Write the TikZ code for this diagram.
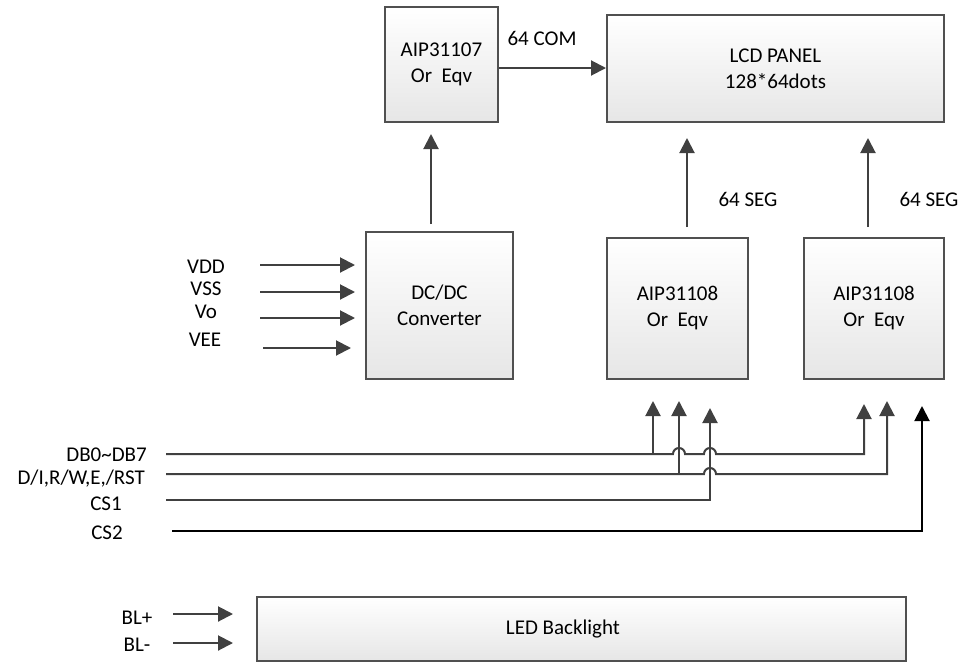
\documentclass[tikz,border=0pt]{standalone}
\usepackage{fontspec}
\setmainfont{Carlito}
\usetikzlibrary{arrows.meta,calc}
\definecolor{arrcol}{HTML}{404040}
\definecolor{boxline}{HTML}{505050}
\definecolor{boxbot}{HTML}{E6E6E6}
\begin{document}
\begin{tikzpicture}[x=1pt,y=-1pt,
  font=\fontsize{21}{26}\selectfont,
  blk/.style={draw=boxline,line width=2pt,top color=white,bottom color=boxbot,
    rectangle,align=center,inner sep=0pt,minimum width=#1},
  arr/.style={draw=arrcol,line width=2pt,-{Triangle[length=15pt,width=15pt]}},
  lbl/.style={inner sep=0pt}]
\useasboundingbox (0,0) rectangle (962,662);
% boxes
\node[blk=113pt,minimum height=115pt] (com) at (441.5,64.5) {AIP31107\\Or\ \ Eqv};
\node[blk=337pt,minimum height=107pt] (lcd) at (775.5,68.5) {LCD PANEL\\128*64dots};
\node[blk=147pt,minimum height=147pt] (dcdc) at (439.5,305.5) {DC/DC\\Converter};
\node[blk=141pt,minimum height=141pt] (seg1) at (677.5,308.5) {AIP31108\\Or\ \ Eqv};
\node[blk=140pt,minimum height=141pt] (seg2) at (874,308.5) {AIP31108\\Or\ \ Eqv};
\node[blk=649pt,minimum height=64pt] (led) at (581.5,629) {};
\node[lbl] (ledt) at (563,629) {LED Backlight};
% top connectors
\draw[arr] (com.east |- 0,68) -- (lcd.west |- 0,68);
\node[lbl] (comlbl) at (542,38) {64 COM};
\draw[arr,shorten <=7pt,shorten >=11pt] (dcdc.north -| 431,0) -- (com.south -| 431,0);
\draw[arr,shorten <=10pt,shorten >=15pt] (seg1.north -| 687,0) -- (lcd.south -| 687,0);
\draw[arr,shorten <=10pt,shorten >=15pt] (seg2.north -| 868,0) -- (lcd.south -| 868,0);
\node[lbl] (seglbl1) at (748,199) {64 SEG};
\node[lbl] (seglbl2) at (929,199) {64 SEG};
% power inputs
\node[lbl] (vdd) at (206,267) {VDD};
\node[lbl] (vss) at (206,289) {VSS};
\node[lbl] (vo) at (206,312) {Vo};
\node[lbl] (vee) at (205,340) {VEE};
\coordinate (vddA) at (260,265); \coordinate (vddB) at (355,265);
\coordinate (vssA) at (260,292); \coordinate (vssB) at (355,292);
\coordinate (voA) at (260,318);  \coordinate (voB) at (355,318);
\coordinate (veeA) at (263,348); \coordinate (veeB) at (351,348);
\draw[arr] (vddA) -- (vddB);
\draw[arr] (vssA) -- (vssB);
\draw[arr] (voA) -- (voB);
\draw[arr] (veeA) -- (veeB);
% bus labels
\node[lbl,anchor=east] (dblbl) at (147,455) {DB0\textasciitilde DB7};
\node[lbl,anchor=east] (dilbl) at (145,479) {D/I,R/W,E,/RST};
\node[lbl] (cs1lbl) at (106,504) {CS1};
\node[lbl] (cs2lbl) at (107,533) {CS2};
% bus coordinates
\coordinate (dbL) at (166,454);
\coordinate (diL) at (166,474);
\coordinate (cs1L) at (166,500);
\coordinate (cs2L) at (172,531);
\coordinate (ja) at (653,454);
\coordinate (jb) at (679,474);
\coordinate (jc) at (710,500);
% DB0~DB7 line with hops, to seg2
\draw[arr,shorten >=24pt] (dbL) -- (673,454) arc[start angle=180,end angle=0,radius=6pt]
  -- (704,454) arc[start angle=180,end angle=0,radius=6pt]
  -- (864,454) -- (seg2.south -| 864,0);
\draw[arr,shorten >=21pt] (ja) -- (seg1.south -| ja);
% D/I line with hop, to seg2
\draw[arr,shorten >=21pt] (diL) -- (704,474) arc[start angle=180,end angle=0,radius=6pt]
  -- (887,474) -- (seg2.south -| 887,0);
\draw[arr,shorten >=21pt] (jb) -- (seg1.south -| jb);
% CS1
\draw[arr,shorten >=28pt] (cs1L) -- (jc) -- (seg1.south -| jc);
% CS2
\draw[line width=2pt,draw=black,-{Triangle[length=15pt,width=15pt]},shorten >=26pt]
  (cs2L) -- (922,531) -- (seg2.south -| 922,0);
% backlight
\node[lbl] (blp) at (137,618) {BL+};
\node[lbl] (blm) at (137,645) {BL-};
\coordinate (blpA) at (173,614); \coordinate (blpB) at (233,614);
\coordinate (blmA) at (173,643); \coordinate (blmB) at (233,643);
\draw[arr] (blpA) -- (blpB);
\draw[arr] (blmA) -- (blmB);
\end{tikzpicture}
\end{document}
